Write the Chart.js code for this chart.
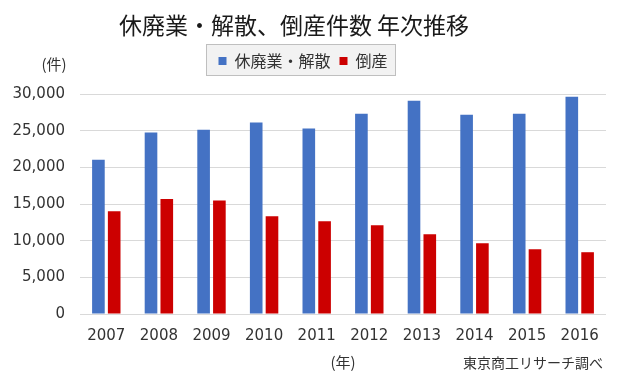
<!DOCTYPE html>
<html>
<head>
<meta charset="utf-8">
<script src="https://cdn.jsdelivr.net/npm/chart.js@4.4.1/dist/chart.umd.min.js"></script>
<style>
html, body { margin: 0; padding: 0; background: #fff; }
#chartContainer { position: relative; width: 622px; height: 375px; }
</style>
</head>
<body>
<div id="chartContainer"><canvas id="myChart" width="622" height="375"></canvas></div>
<script>
// data
var years = ['2007', '2008', '2009', '2010', '2011', '2012', '2013', '2014', '2015', '2016'];
var closures = [21030, 24740, 25140, 26100, 25280, 27320, 29080, 27180, 27320, 29630];
var bankruptcies = [14000, 15670, 15490, 13320, 12640, 12100, 10870, 9650, 8830, 8425];
var yTicks = [0, 5000, 10000, 15000, 20000, 25000, 30000];
var seriesNames = ['休廃業・解散', '倒産'];
var titleText = '休廃業・解散、倒産件数 年次推移';
var yUnit = '(件)';
var xUnit = '(年)';
var sourceText = '東京商工リサーチ調べ';

var NUM_FONT = "'DejaVu Sans', 'Noto Sans CJK JP', sans-serif";
var JP_FONT = "'Noto Sans CJK JP', sans-serif";
var TEXT = '#333333';

// legend background box, title, unit and source note
var extraText = {
  id: 'extraText',
  afterInit: function (chart) {
    var lg = chart.legend;
    var fit = lg.fit;
    lg.fit = function () { fit.call(this); this.height += 15; };
  },
  beforeDraw: function (chart) {
    var boxes = chart.legend.legendHitBoxes;
    if (!boxes || !boxes.length) return;
    var l = Infinity, r = -Infinity, t = Infinity, b = -Infinity;
    boxes.forEach(function (h) {
      l = Math.min(l, h.left); r = Math.max(r, h.left + h.width);
      t = Math.min(t, h.top); b = Math.max(b, h.top + h.height);
    });
    var ctx = chart.ctx;
    ctx.save();
    ctx.fillStyle = '#f2f2f2';
    ctx.strokeStyle = '#bfbfbf';
    ctx.lineWidth = 1;
    ctx.fillRect(l - 12, t - 9, r - l + 20, b - t + 15);
    ctx.strokeRect(Math.round(l - 12) + 0.5, Math.round(t - 9) + 0.5, Math.round(r - l + 20), Math.round(b - t + 15));
    ctx.restore();
  },
  afterDraw: function (chart) {
    var ctx = chart.ctx;
    ctx.save();
    ctx.fillStyle = '#1a1a1a';
    ctx.textBaseline = 'middle';
    ctx.textAlign = 'center';
    ctx.font = '23px ' + JP_FONT;
    ctx.fillText(titleText, 294, 25);
    ctx.fillStyle = TEXT;
    ctx.font = '15px ' + JP_FONT;
    ctx.fillText(yUnit, 54, 64);
    ctx.textAlign = 'right';
    ctx.font = '14px ' + JP_FONT;
    ctx.fillText(sourceText, 603, 363);
    ctx.restore();
  }
};

var ctx = document.getElementById('myChart').getContext('2d');
var chart = new Chart(ctx, {
  type: 'bar',
  data: {
    labels: years,
    datasets: [{
      label: seriesNames[0],
      data: closures,
      backgroundColor: '#4472c4'
    }, {
      label: seriesNames[1],
      data: bankruptcies,
      backgroundColor: '#cc0000'
    }]
  },
  options: {
    responsive: false,
    animation: false,
    maintainAspectRatio: false,
    categoryPercentage: 0.6,
    barPercentage: 0.8,
    layout: { padding: { top: 44, left: 0, right: 16, bottom: 4 } },
    plugins: {
      title: { display: false },
      tooltip: { enabled: false },
      legend: {
        display: true,
        position: 'top',
        labels: {
          color: TEXT,
          font: { family: JP_FONT, size: 16 },
          boxWidth: 8,
          boxHeight: 8,
          padding: 9
        }
      }
    },
    scales: {
      x: {
        afterFit: function (scale) { scale.height = 57; },
        grid: { display: false, drawTicks: false },
        border: { display: false },
        ticks: { color: TEXT, font: { family: NUM_FONT, size: 15 }, padding: 13, maxRotation: 0, autoSkip: false },
        title: { display: true, text: xUnit, color: TEXT, font: { family: JP_FONT, size: 15 }, padding: { top: 8, bottom: 0 } }
      },
      y: {
        min: 0,
        max: 30000,
        afterFit: function (scale) { scale.width = 80; },
        afterBuildTicks: function (scale) { scale.ticks = yTicks.map(function (v) { return { value: v }; }); },
        grid: { color: '#d9d9d9', drawTicks: false },
        border: { display: false },
        ticks: {
          color: TEXT,
          font: { family: NUM_FONT, size: 15 },
          padding: 15,
          callback: function (v) { return Number(v).toLocaleString('en-US'); }
        }
      }
    }
  },
  plugins: [extraText]
});
</script>
</body>
</html>
